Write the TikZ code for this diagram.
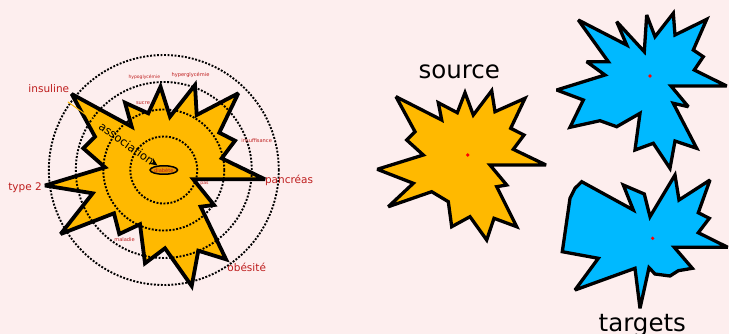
\documentclass[tikz,border=0pt]{standalone}
\usepackage{fontspec}
\setmainfont{DejaVu Sans}
\usetikzlibrary{shapes.geometric,arrows.meta}
\definecolor{bgc}{RGB}{253,238,238}
\definecolor{gold}{RGB}{255,185,0}
\definecolor{skyb}{RGB}{0,185,255}
\definecolor{dorange}{RGB}{232,150,0}
\definecolor{labred}{RGB}{190,30,30}
\begin{document}
\begin{tikzpicture}[x=1pt,y=-1pt,
  starL/.style={draw=black,fill=gold,line width=3.8pt,line join=miter,miter limit=3},
  starS/.style={draw=black,fill=gold,line width=3.3pt,line join=miter,miter limit=3},
  starT/.style={draw=black,fill=skyb,line width=3.3pt,line join=miter,miter limit=3},
  ring/.style={draw=black,line width=1.9pt,dash pattern=on 1.9pt off 1.6pt},
  lab/.style={text=labred,font=\fontsize{10.5}{12}\selectfont,inner sep=0pt},
  tiny/.style={text=labred,font=\fontsize{5.1}{6}\selectfont,inner sep=0pt},
  big/.style={text=black,font=\fontsize{24.5}{28}\selectfont,inner sep=0pt},
  reddot/.style={fill=red,draw=none},
  assoc/.style={draw=gold,line width=1pt,shorten <=16pt,-{Stealth[length=8pt,width=7pt,color=black]}}
]
\fill[bgc] (0,0) rectangle (729,334);
\useasboundingbox (0,0) rectangle (729,334);

% left star
\path[starL] (71.7,94) -- (131.7,126.7) -- (125,102.7) -- (148.3,113.3) -- (160.5,86.7)
  -- (170,116.7) -- (195,85) -- (196.7,115) -- (238.3,93.3) -- (219.3,132.7)
  -- (235,140.7) -- (221.7,158.3) -- (265,179.3) -- (193.3,179.3) -- (214,205)
  -- (200.7,206.7) -- (226,259.3) -- (198.3,250.7) -- (191.7,286) -- (165,248.3)
  -- (145,263.3) -- (140,224.3) -- (119.3,234) -- (114,213.3) -- (60.7,234)
  -- (92.7,193.3) -- (45,185.5) -- (105,167.3) -- (83.3,148.3) -- (95,136.7) -- cycle;

% dotted rings
\foreach \r in {33.5,60.5,88,115}
  \draw[ring] (163.8,170) circle [radius=\r pt];

% labels
\node[lab,anchor=base] (insuline) at (48.8,92.3) {insuline};
\node[lab,anchor=base] (type2) at (25,190.5) {type 2};
\node[lab,anchor=base] (pancreas) at (289,183.5) {pancréas};
\node[lab,anchor=base] (obesite) at (246.7,271.7) {obésité};
\node[tiny,font=\fontsize{4.5}{5}\selectfont] (hypo) at (144.3,76.7) {hypoglycémie};
\node[tiny] (hyper) at (190.5,75) {hyperglycémie};
\node[tiny] (sucre) at (143,102.7) {sucre};
\node[tiny] (insuff) at (256.7,141) {insuffisance};
\node[tiny] (maladie) at (124.5,239.3) {maladie};
\node[tiny,font=\fontsize{4.6}{5}\selectfont] (pas) at (204.5,183.3) {pas};
\node[ellipse,draw=black,line width=1.5pt,fill=dorange,minimum width=27.5pt,minimum height=8.5pt,inner sep=0pt,tiny] (diabete) at (163.8,170) {diabète};

\draw[assoc] (insuline) -- (diabete)
  node[sloped,pos=0.7,text=black,font=\fontsize{11.5}{13}\selectfont,inner sep=0pt] (assoclab) {association};

% source
\node[big,anchor=base] (source) at (459.3,78.3) {source};
\path[starS] (396,96.7) -- (441.7,120) -- (438.3,102.7) -- (457.3,112.7) -- (465,92.7)
  -- (473.3,115) -- (491.7,90.7) -- (495,111.7) -- (525,98.3) -- (510.7,128.3)
  -- (524,135) -- (513.3,149.3) -- (546,165) -- (490,165) -- (506.7,185)
  -- (496.7,186.7) -- (516.7,226.7) -- (494,218.3) -- (486.7,240) -- (470,216.7)
  -- (451.7,226.7) -- (448.3,201.7) -- (431.7,191.7) -- (388.3,206.7) -- (413.3,183.3)
  -- (377.3,169.3) -- (423.3,155) -- (406.7,140) -- (415,131.7) -- cycle;
\fill[reddot] (467.7,155) circle [radius=1.8pt];

% top target
\path[starT] (578.3,20) -- (626.7,45) -- (616.7,21.7) -- (644.3,51.7) -- (646.7,15)
  -- (655,36.7) -- (673.3,13.3) -- (675,35) -- (706.7,19.3) -- (693.3,50)
  -- (703.3,56.7) -- (694.3,70) -- (726.7,86) -- (671,86) -- (688.3,106.7)
  -- (673.3,103.3) -- (696.7,148.3) -- (675,141) -- (670,168.3) -- (653.3,143.3)
  -- (635,150) -- (640,113.3) -- (616.7,126.7) -- (600,120.7) -- (570,127.3)
  -- (583.3,100) -- (556.7,90) -- (605,75) -- (586.7,61.7) -- (608.3,61.7) -- cycle;
\fill[reddot] (650,76) circle [radius=1.8pt];

% bottom target
\path[starT] (581.7,181.7) -- (633.3,210) -- (623.3,185) -- (644.3,194) -- (650,216.7)
  -- (675,175) -- (679,200) -- (710,180) -- (698.3,212.7) -- (709.3,218.3)
  -- (698.3,232.7) -- (727.7,247.3) -- (674.3,247.3) -- (692.3,268.3) -- (678.3,270.7)
  -- (670,276) -- (655,274) -- (649,267.7) -- (640,308.3) -- (635,268.3)
  -- (575,290) -- (598.3,258.3) -- (562.3,251.7) -- (570,198.3) -- (575,188.3) -- cycle;
\fill[reddot] (652.7,238.3) circle [radius=1.8pt];
\node[big,anchor=base] (targets) at (642.3,331.5) {targets};
\end{tikzpicture}
\end{document}
